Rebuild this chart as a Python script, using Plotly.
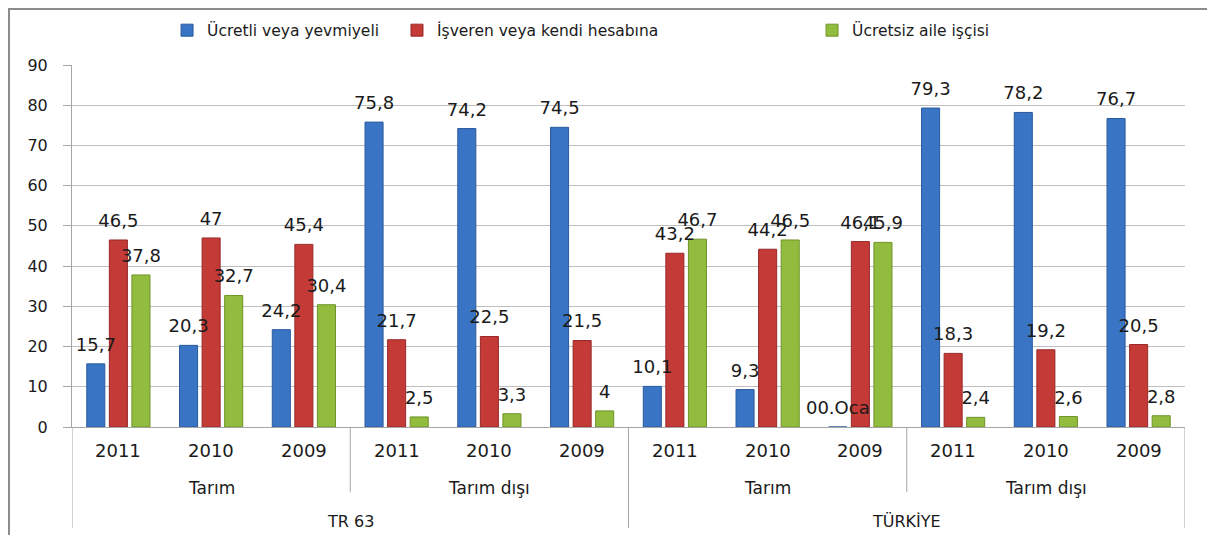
import plotly.graph_objects as go

regions = ["TR 63", "TÜRKİYE"]
sectors = ["Tarım", "Tarım dışı"]
years = ["2011", "2010", "2009"]

series_names = ["Ücretli veya yevmiyeli", "İşveren veya kendi hesabına", "Ücretsiz aile işçisi"]
ucretli = [15.7, 20.3, 24.2, 75.8, 74.2, 74.5, 10.1, 9.3, 0, 79.3, 78.2, 76.7]
isveren = [46.5, 47, 45.4, 21.7, 22.5, 21.5, 43.2, 44.2, 46.1, 18.3, 19.2, 20.5]
ucretsiz = [37.8, 32.7, 30.4, 2.5, 3.3, 4, 46.7, 46.5, 45.9, 2.4, 2.6, 2.8]
label_overrides = {(0, 8): "00.Oca"}

colors = ["#3A74C4", "#C43A36", "#92BC3E"]
edges = ["#2A5A9E", "#98292A", "#6F9428"]

cats = [f"{r} | {s} | {y}" for r in regions for s in sectors for y in years]

def fmt(v):
    return (f"{v:g}").replace(".", ",")

FONT = "DejaVu Sans"
LABEL_LIFT = 1.5  # visual lift of the value labels above bar tops (style only)
legend_ids = ["legend", "legend2", "legend3"]
legend_x = [0.0854, 0.2920, 0.6649]

fig = go.Figure()
all_vals = [ucretli, isveren, ucretsiz]
for si, (name, vals) in enumerate(zip(series_names, all_vals)):
    fig.add_trace(go.Bar(
        x=cats, y=vals, name=name, offsetgroup=str(si), legend=legend_ids[si],
        marker=dict(color=colors[si], line=dict(color=edges[si], width=1)),
    ))
for si, vals in enumerate(all_vals):
    texts = [label_overrides.get((si, i), fmt(v)) for i, v in enumerate(vals)]
    fig.add_trace(go.Bar(
        x=cats, y=vals, base=[LABEL_LIFT] * len(vals), offsetgroup=str(si),
        text=texts, textposition="outside", constraintext="none", cliponaxis=False,
        textfont=dict(family=FONT, size=18, color="#1a1a1a"),
        marker=dict(color="rgba(0,0,0,0)", line=dict(width=0)),
        showlegend=False, hoverinfo="skip",
    ))

ann = []
for i, c in enumerate(cats):
    ann.append(dict(x=i, y=-0.064, xref="x", yref="paper", text=years[i % 3], showarrow=False,
                    font=dict(family=FONT, size=18, color="#1a1a1a"), yanchor="middle"))
for k in range(len(regions) * len(sectors)):
    ann.append(dict(x=3 * k + 1, y=-0.168, xref="x", yref="paper", text=sectors[k % 2], showarrow=False,
                    font=dict(family=FONT, size=17, color="#1a1a1a"), yanchor="middle"))
for r in range(len(regions)):
    ann.append(dict(x=6 * r + 2.5, y=-0.262, xref="x", yref="paper", text=regions[r], showarrow=False,
                    font=dict(family=FONT, size=16, color="#1a1a1a"), yanchor="middle"))

shapes = []
line_c = "#A6A6A6"
for xv in [2.5, 8.5]:
    shapes.append(dict(type="line", xref="x", yref="paper", x0=xv, x1=xv, y0=0, y1=-0.18,
                       line=dict(color=line_c, width=1)))
for xv in [-0.5, 5.5, 11.5]:
    shapes.append(dict(type="line", xref="x", yref="paper", x0=xv, x1=xv, y0=0, y1=-0.279,
                       line=dict(color=line_c, width=1)))
shapes.append(dict(type="rect", xref="paper", yref="paper", x0=-0.0566, x1=1.0243, y0=-0.4, y1=1.1547,
                   line=dict(color="#8C8C8C", width=2), layer="below"))

legend_common = dict(orientation="h", xanchor="left", y=1.095, yanchor="middle",
                     font=dict(family=FONT, size=15.5, color="#1a1a1a"), itemwidth=30,
                     bgcolor="rgba(0,0,0,0)")
legends = {lid: dict(legend_common, x=lx) for lid, lx in zip(legend_ids, legend_x)}

# page body has an 8px default margin: figure is sized/offset to compensate
fig.update_layout(
    width=1207, height=527,
    margin=dict(l=64, r=30, t=57, b=108, autoexpand=False),
    paper_bgcolor="white", plot_bgcolor="white",
    barmode="group", bargap=0.27, bargroupgap=0.2,
    font=dict(family=FONT, color="#1a1a1a"),
    annotations=ann, shapes=shapes,
    **legends,
)
fig.update_xaxes(type="category", showticklabels=False, showgrid=False, showline=True,
                 linecolor=line_c, linewidth=1, ticks="", range=[-0.5, 11.5], zeroline=False)
fig.update_yaxes(range=[0, 90], dtick=10, showgrid=True, gridcolor="#BFBFBF", gridwidth=1,
                 showline=True, linecolor=line_c, linewidth=1, ticks="outside", ticklen=8,
                 tickcolor=line_c, zeroline=False, ticklabelstandoff=12,
                 tickfont=dict(family=FONT, size=16, color="#1a1a1a"))

fig.write_html("out.html")
